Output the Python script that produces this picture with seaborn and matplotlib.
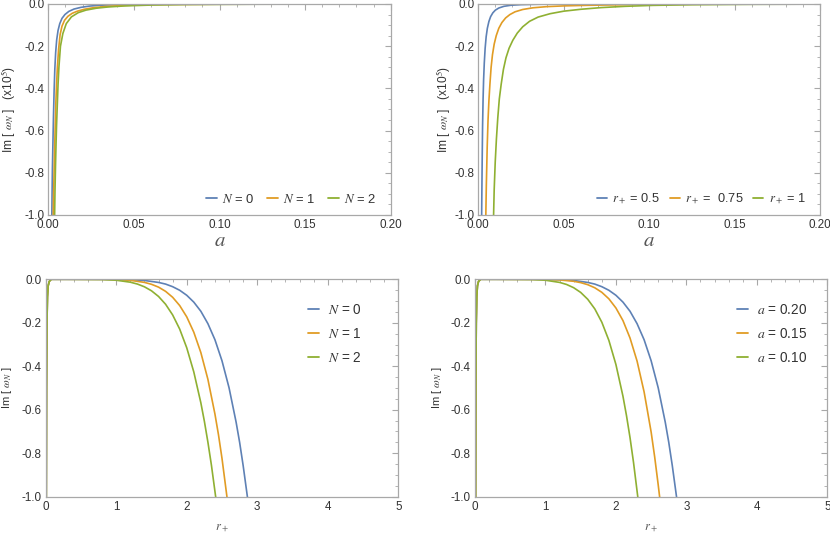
import numpy as np
import pandas as pd
import matplotlib
matplotlib.use("Agg")
import matplotlib.pyplot as plt
from matplotlib.lines import Line2D
from matplotlib.ticker import MultipleLocator, FormatStrFormatter
import seaborn as sns

# ---------------- data ----------------
# Top-left: Im[omega_N] (x1e5) vs a, for N = 0, 1, 2
tl_labels = [r"$N$ = 0", r"$N$ = 1", r"$N$ = 2"]
tl_n0_a = [0.0020, 0.0022, 0.0024, 0.0027, 0.0030, 0.0034, 0.0038, 0.0043, 0.0049, 0.0057, 0.0067, 0.0080, 0.0097, 0.0120, 0.0150, 0.0190, 0.0240, 0.0300, 0.0400, 0.0550, 0.1000, 0.2000]
tl_n0_im = [-1.05, -0.90, -0.78, -0.66, -0.54, -0.41, -0.31, -0.23, -0.17, -0.125, -0.093, -0.068, -0.050, -0.035, -0.024, -0.016, -0.010, -0.006, -0.003, -0.001, 0.0, 0.0]
tl_n1_a = [0.0028, 0.0031, 0.0034, 0.0037, 0.0040, 0.0044, 0.0048, 0.0053, 0.0060, 0.0069, 0.0080, 0.0095, 0.0115, 0.0140, 0.0170, 0.0210, 0.0260, 0.0330, 0.0430, 0.0600, 0.1000, 0.2000]
tl_n1_im = [-1.05, -0.90, -0.79, -0.685, -0.59, -0.47, -0.385, -0.30, -0.215, -0.145, -0.105, -0.077, -0.058, -0.044, -0.034, -0.025, -0.018, -0.012, -0.007, -0.003, -0.001, 0.0]
tl_n2_a = [0.0036, 0.0039, 0.0042, 0.0045, 0.0048, 0.0052, 0.0057, 0.0062, 0.0071, 0.0085, 0.0105, 0.0135, 0.0175, 0.0220, 0.0280, 0.0350, 0.0450, 0.0600, 0.0800, 0.1200, 0.2000]
tl_n2_im = [-1.05, -0.89, -0.77, -0.67, -0.58, -0.49, -0.38, -0.30, -0.20, -0.14, -0.093, -0.061, -0.041, -0.029, -0.020, -0.014, -0.009, -0.005, -0.0025, -0.001, 0.0]

# Top-right: Im[omega_N] (x1e5) vs a, for r+ = 0.5, 0.75, 1
tr_labels = [r"$r_+$ = 0.5", r"$r_+$ =  0.75", r"$r_+$ = 1"]
tr_r05_a = [0.0019, 0.0021, 0.0023, 0.0025, 0.0028, 0.0031, 0.0035, 0.0040, 0.0046, 0.0053, 0.0062, 0.0072, 0.0085, 0.0100, 0.0120, 0.0150, 0.0190, 0.0250, 0.0350, 0.0500, 0.1000, 0.2000]
tr_r05_im = [-1.05, -0.88, -0.72, -0.58, -0.45, -0.36, -0.28, -0.21, -0.155, -0.115, -0.083, -0.060, -0.042, -0.029, -0.019, -0.011, -0.006, -0.003, -0.0012, -0.0004, 0.0, 0.0]
tr_r075_a = [0.0043, 0.0047, 0.0052, 0.0057, 0.0062, 0.0068, 0.0075, 0.0083, 0.0093, 0.0105, 0.0120, 0.0138, 0.0160, 0.0185, 0.0215, 0.0260, 0.0320, 0.0400, 0.0500, 0.0650, 0.0900, 0.1300, 0.2000]
tr_r075_im = [-1.05, -0.86, -0.68, -0.55, -0.46, -0.38, -0.30, -0.24, -0.19, -0.15, -0.115, -0.088, -0.066, -0.050, -0.037, -0.026, -0.018, -0.0125, -0.009, -0.006, -0.003, -0.001, 0.0]
tr_r1_a = [0.0088, 0.0093, 0.0099, 0.0106, 0.0114, 0.0123, 0.0134, 0.0147, 0.0162, 0.0180, 0.0202, 0.0228, 0.0260, 0.0300, 0.0350, 0.0420, 0.0500, 0.0600, 0.0720, 0.0860, 0.1020, 0.1250, 0.1600, 0.2000]
tr_r1_im = [-1.05, -0.88, -0.75, -0.64, -0.54, -0.45, -0.38, -0.31, -0.255, -0.21, -0.172, -0.138, -0.108, -0.082, -0.062, -0.046, -0.034, -0.025, -0.017, -0.011, -0.0065, -0.0035, -0.0015, -0.0005]

# Bottom-left: Im[omega_N] vs r+, for N = 0, 1, 2
bl_labels = [r"$N$ = 0", r"$N$ = 1", r"$N$ = 2"]
bl_n0_r = [0.008, 0.012, 0.018, 0.025, 0.035, 0.05, 0.08, 0.3, 0.8, 1.0, 1.2, 1.4, 1.6, 1.7, 1.8, 1.9, 2.0, 2.1, 2.2, 2.3, 2.4, 2.5, 2.6, 2.7, 2.75, 2.8, 2.86, 2.88]
bl_n0_im = [-1.05, -0.5, -0.2, -0.08, -0.03, -0.01, 0.0, 0.0, -0.0001, -0.0005, -0.0018, -0.0054, -0.0144, -0.022, -0.034, -0.0505, -0.0735, -0.105, -0.147, -0.204, -0.278, -0.375, -0.499, -0.657, -0.75, -0.857, -1.0, -1.05]
bl_n1_r = [0.008, 0.012, 0.018, 0.025, 0.035, 0.05, 0.08, 0.3, 0.8, 1.0, 1.2, 1.4, 1.5, 1.6, 1.7, 1.8, 1.9, 2.0, 2.1, 2.2, 2.3, 2.4, 2.45, 2.5, 2.57, 2.59]
bl_n1_im = [-1.05, -0.5, -0.2, -0.08, -0.03, -0.01, 0.0, 0.0, -0.0003, -0.0013, -0.0048, -0.0142, -0.023, -0.036, -0.0554, -0.0827, -0.1207, -0.1728, -0.2433, -0.337, -0.460, -0.620, -0.715, -0.824, -1.0, -1.05]
bl_n2_r = [0.008, 0.012, 0.018, 0.025, 0.035, 0.05, 0.08, 0.3, 0.8, 1.0, 1.2, 1.3, 1.4, 1.5, 1.6, 1.7, 1.8, 1.9, 2.0, 2.1, 2.2, 2.25, 2.3, 2.35, 2.41, 2.43]
bl_n2_im = [-1.05, -0.5, -0.2, -0.08, -0.03, -0.01, 0.0, 0.0, -0.0011, -0.0043, -0.0133, -0.0218, -0.0345, -0.0529, -0.0789, -0.1148, -0.1638, -0.229, -0.315, -0.426, -0.568, -0.653, -0.749, -0.855, -1.0, -1.05]

# Bottom-right: Im[omega_N] vs r+, for a = 0.20, 0.15, 0.10
br_labels = [r"$a$ = 0.20", r"$a$ = 0.15", r"$a$ = 0.10"]
br_a20_r = [0.008, 0.012, 0.018, 0.025, 0.035, 0.05, 0.08, 0.3, 0.8, 1.0, 1.2, 1.4, 1.6, 1.7, 1.8, 1.9, 2.0, 2.1, 2.2, 2.3, 2.4, 2.5, 2.6, 2.7, 2.75, 2.8, 2.86, 2.88]
br_a20_im = [-1.05, -0.5, -0.2, -0.08, -0.03, -0.01, 0.0, 0.0, -0.0001, -0.0005, -0.0018, -0.0054, -0.0144, -0.022, -0.034, -0.0505, -0.0735, -0.105, -0.147, -0.204, -0.278, -0.375, -0.499, -0.657, -0.75, -0.857, -1.0, -1.05]
br_a15_r = [0.008, 0.012, 0.018, 0.025, 0.035, 0.05, 0.08, 0.3, 1.0, 1.2, 1.4, 1.5, 1.6, 1.7, 1.8, 1.9, 2.0, 2.1, 2.2, 2.3, 2.4, 2.45, 2.5, 2.55, 2.6, 2.62, 2.64]
br_a15_im = [-1.05, -0.5, -0.2, -0.08, -0.03, -0.01, 0.0, 0.0, -0.0007, -0.0029, -0.0091, -0.0153, -0.0247, -0.039, -0.0599, -0.0898, -0.132, -0.190, -0.270, -0.376, -0.518, -0.61, -0.703, -0.817, -0.945, -1.0, -1.05]
br_a10_r = [0.008, 0.012, 0.018, 0.025, 0.035, 0.05, 0.08, 0.3, 0.8, 1.0, 1.2, 1.3, 1.4, 1.5, 1.6, 1.7, 1.8, 1.9, 2.0, 2.1, 2.15, 2.2, 2.25, 2.31, 2.33]
br_a10_im = [-1.05, -0.5, -0.2, -0.08, -0.03, -0.01, 0.0, 0.0, -0.001, -0.0043, -0.0142, -0.0238, -0.0386, -0.0604, -0.0919, -0.136, -0.1975, -0.281, -0.392, -0.538, -0.627, -0.728, -0.843, -1.0, -1.05]

colors = ["#5E81B5", "#E19C24", "#8FB032"]

# ---------------- style ----------------
sns.set_style("white")
plt.rcParams['font.family'] = ['Liberation Sans', 'DejaVu Sans']
plt.rcParams['mathtext.fontset'] = 'stix'
plt.rcParams['axes.unicode_minus'] = True

fig = plt.figure(figsize=(8.3, 5.35), dpi=100)
W, H = 830.0, 535.0

def add_ax(l, r, t, b):
    return fig.add_axes([l / W, 1 - b / H, (r - l) / W, (b - t) / H])

ax_tl = add_ax(48.3, 390.7, 4, 215)
ax_tr = add_ax(478.3, 820.0, 4, 215)
ax_bl = add_ax(45.7, 398.3, 279.3, 496.7)
ax_br = add_ax(475.0, 827.3, 279.3, 496.7)

frame_col = "#a8a8a8"
label_col = "#333333"


def make_df(xs, ys, labels, xname):
    parts = []
    for x, y, lab in zip(xs, ys, labels):
        parts.append(pd.DataFrame({xname: x, "im": y, "series": lab}))
    return pd.concat(parts, ignore_index=True)


def draw(ax, df, xname, labels):
    sns.lineplot(data=df, x=xname, y="im", hue="series", hue_order=labels,
                 palette=colors, estimator=None, sort=False, lw=1.2,
                 legend=False, ax=ax)


def style(ax, xlim, xmaj, xmin, xfmt):
    ax.set_xlim(*xlim)
    ax.set_ylim(-1.0, 0.0)
    ax.xaxis.set_major_locator(MultipleLocator(xmaj))
    ax.xaxis.set_minor_locator(MultipleLocator(xmin))
    ax.yaxis.set_major_locator(MultipleLocator(0.2))
    ax.yaxis.set_minor_locator(MultipleLocator(0.05))
    ax.xaxis.set_major_formatter(FormatStrFormatter(xfmt))
    ax.yaxis.set_major_formatter(FormatStrFormatter("%.1f"))
    for s in ax.spines.values():
        s.set_color(frame_col)
        s.set_linewidth(0.9)
        s.set_visible(True)
    ax.tick_params(which="both", direction="in", top=True, right=True,
                   color=frame_col, labelcolor=label_col, labelsize=8.4)
    ax.tick_params(which="major", length=4.0, width=0.8, pad=3)
    ax.tick_params(which="minor", length=2.2, width=0.6)


def legend(ax, labels, **kw):
    handles = [Line2D([], [], color=c, lw=1.3) for c in colors]
    ax.legend(handles, labels, frameon=False, labelcolor=label_col, **kw)


# top-left
df = make_df([tl_n0_a, tl_n1_a, tl_n2_a], [tl_n0_im, tl_n1_im, tl_n2_im], tl_labels, "a")
draw(ax_tl, df, "a", tl_labels)
style(ax_tl, (0, 0.2), 0.05, 0.01, "%.2f")
legend(ax_tl, tl_labels, loc="lower right", ncol=3, fontsize=9.4,
       handlelength=0.8, handletextpad=0.4, columnspacing=1.0,
       bbox_to_anchor=(0.985, 0.0), borderaxespad=0.3)

# top-right
df = make_df([tr_r05_a, tr_r075_a, tr_r1_a], [tr_r05_im, tr_r075_im, tr_r1_im], tr_labels, "a")
draw(ax_tr, df, "a", tr_labels)
style(ax_tr, (0, 0.2), 0.05, 0.01, "%.2f")
legend(ax_tr, tr_labels, loc="lower right", ncol=3, fontsize=9.2,
       handlelength=0.8, handletextpad=0.4, columnspacing=0.75,
       bbox_to_anchor=(0.985, 0.0), borderaxespad=0.3)

# bottom-left
df = make_df([bl_n0_r, bl_n1_r, bl_n2_r], [bl_n0_im, bl_n1_im, bl_n2_im], bl_labels, "r")
draw(ax_bl, df, "r", bl_labels)
style(ax_bl, (0, 5), 1, 0.2, "%d")
legend(ax_bl, bl_labels, loc="upper left", fontsize=9.8,
       handlelength=0.85, handletextpad=0.6, labelspacing=0.72,
       bbox_to_anchor=(0.728, 0.915), borderaxespad=0.0)

# bottom-right
df = make_df([br_a20_r, br_a15_r, br_a10_r], [br_a20_im, br_a15_im, br_a10_im], br_labels, "r")
draw(ax_br, df, "r", br_labels)
style(ax_br, (0, 5), 1, 0.2, "%d")
legend(ax_br, br_labels, loc="upper left", fontsize=9.8,
       handlelength=0.85, handletextpad=0.6, labelspacing=0.72,
       bbox_to_anchor=(0.728, 0.915), borderaxespad=0.0)

# axis labels
ylab_top = r"Im [ $\omega_N$ ]   (x10$^5$)"
ylab_bot = r"Im [ $\omega_N$ ]"
for ax, lab, lx, fs in [(ax_tl, ylab_top, -0.118, 8.6), (ax_tr, ylab_top, -0.104, 8.6),
                        (ax_bl, ylab_bot, -0.109, 8.0), (ax_br, ylab_bot, -0.109, 8.0)]:
    ax.set_ylabel(lab, fontsize=fs, color=label_col)
    ax.yaxis.set_label_coords(lx, 0.5)
    ax.yaxis.label.set_va("center")

for ax in (ax_tl, ax_tr):
    ax.set_xlabel(r"$a$", fontsize=15, color="#555555")
    ax.xaxis.set_label_coords(0.5, -0.122)
    ax.xaxis.label.set_va("center")
for ax in (ax_bl, ax_br):
    ax.set_xlabel(r"$r_+$", fontsize=9, color="#555555")
    ax.xaxis.set_label_coords(0.5, -0.145)
    ax.xaxis.label.set_va("center")

fig.savefig("out.png", dpi=100)
